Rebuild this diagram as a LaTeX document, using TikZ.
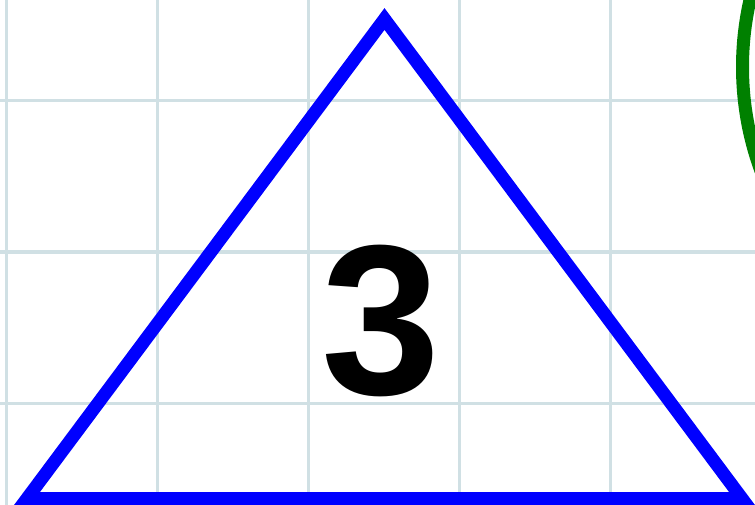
\documentclass[tikz,border=0pt]{standalone}
\usepackage{fontspec}
\setmainfont{Liberation Sans}
\definecolor{gridc}{RGB}{208,224,228}
\definecolor{triblue}{RGB}{0,0,255}
\definecolor{ringgreen}{RGB}{0,128,0}
\tikzset{
  gridline/.style={draw=gridc, line width=3pt},
  tri/.style={draw=triblue, line width=13pt, line join=miter},
  ring/.style={draw=ringgreen, line width=13pt},
  bignum/.style={font=\fontsize{214}{214}\selectfont\bfseries, inner sep=0pt, text=black}
}
\begin{document}
\begin{tikzpicture}[x=1pt,y=-1pt]
\useasboundingbox (0,0) rectangle (755,505);
\fill[white] (0,0) rectangle (755,505);
\begin{scope}
\clip (0,0) rectangle (755,505);
% grid
\foreach \gx in {6,157,308,459,610} \draw[gridline] (\gx,0) -- (\gx,505);
\foreach \gy in {101,252,403} \draw[gridline] (0,\gy) -- (755,\gy);
% green ring
\coordinate (ringc) at (1042.5,67);
\draw[ring] (ringc) circle[radius=300];
% triangle
\coordinate (apex) at (384.5,19);
\coordinate (bl) at (27,498.5);
\coordinate (br) at (742,498.5);
\draw[tri] (apex) -- (bl) -- (br) -- cycle;
\end{scope}
\node[bignum] (three) at (381,321) {3};
\end{tikzpicture}
\end{document}
